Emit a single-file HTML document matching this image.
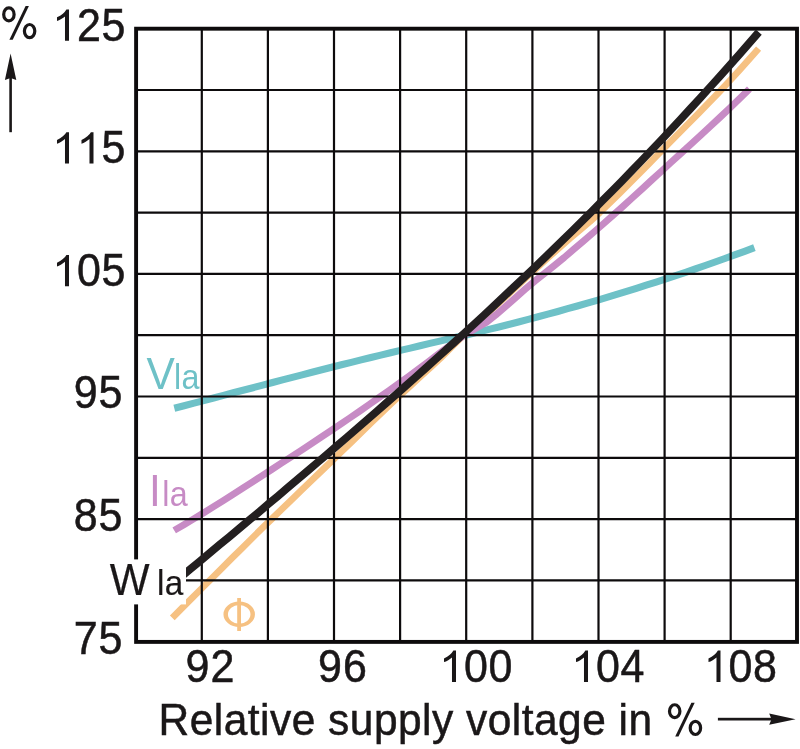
<!DOCTYPE html>
<html><head><meta charset="utf-8"><title>chart</title>
<style>
html,body{margin:0;padding:0;background:#fff;}
body{width:800px;height:749px;overflow:hidden;font-family:"Liberation Sans",sans-serif;}
svg{display:block;will-change:transform;}
text{font-family:"Liberation Sans",sans-serif;}
</style></head><body>
<svg width="800" height="749" viewBox="0 0 800 749">
<rect width="800" height="749" fill="#fff"/>
<g fill="none" stroke-width="7" stroke-linecap="butt" stroke-linejoin="round">
<path d="M174.3,408.2 L184.1,405.7 L194.0,403.1 L203.8,400.6 L213.6,398.0 L223.5,395.4 L233.3,392.8 L243.1,390.3 L253.0,387.7 L262.8,385.1 L272.6,382.5 L282.5,379.9 L292.3,377.4 L302.1,374.9 L312.0,372.3 L321.8,369.8 L331.6,367.3 L341.4,364.8 L351.3,362.4 L361.1,359.9 L370.9,357.5 L380.8,355.1 L390.6,352.7 L400.4,350.4 L410.3,348.1 L420.1,345.7 L429.9,343.4 L439.8,341.1 L449.6,338.8 L459.4,336.5 L469.3,334.2 L479.1,331.8 L488.9,329.4 L498.8,327.0 L508.6,324.5 L518.4,322.0 L528.3,319.4 L538.1,316.8 L547.9,314.1 L557.8,311.5 L567.6,308.7 L577.4,306.0 L587.3,303.1 L597.1,300.3 L606.9,297.4 L616.7,294.4 L626.6,291.4 L636.4,288.3 L646.2,285.2 L656.1,282.1 L665.9,278.9 L675.7,275.6 L685.6,272.3 L695.4,268.9 L705.2,265.5 L715.1,262.0 L724.9,258.5 L734.7,254.9 L744.6,251.3 L754.4,247.6" stroke="#6ec1c7" stroke-width="7.1"/>
<path d="M172.3,617.8 L182.2,607.8 L192.2,597.9 L202.1,588.0 L212.0,578.1 L222.0,568.2 L231.9,558.2 L241.9,548.4 L251.8,538.5 L261.7,528.7 L271.7,519.0 L281.6,509.4 L291.5,499.8 L301.5,490.2 L311.4,480.6 L321.4,471.0 L331.3,461.5 L341.2,451.9 L351.2,442.3 L361.1,432.6 L371.0,422.9 L381.0,413.3 L390.9,403.9 L400.9,394.6 L410.8,385.5 L420.7,376.4 L430.7,367.3 L440.6,358.0 L450.5,348.2 L460.5,338.4 L470.4,329.1 L480.4,320.0 L490.3,310.9 L500.2,301.7 L510.2,292.6 L520.1,283.4 L530.0,274.1 L540.0,265.0 L549.9,256.1 L559.9,247.3 L569.8,238.5 L579.7,230.2 L589.7,221.8 L599.6,212.7 L609.5,203.1 L619.5,193.4 L629.4,183.4 L639.4,173.4 L649.3,163.3 L659.2,153.1 L669.2,143.0 L679.1,133.0 L689.0,123.0 L699.0,112.9 L708.9,102.7 L718.9,92.4 L728.8,81.8 L738.7,70.9 L748.7,59.8 L758.6,48.6" stroke="#f6c182" stroke-width="6.7"/>
<path d="M174.2,530.4 L183.9,524.7 L193.7,518.9 L203.4,513.0 L213.2,506.9 L222.9,500.8 L232.7,494.6 L242.4,488.3 L252.2,482.1 L261.9,475.8 L271.7,469.5 L281.4,463.2 L291.2,456.9 L300.9,450.6 L310.7,444.2 L320.4,437.7 L330.2,431.2 L339.9,424.6 L349.7,418.0 L359.4,411.3 L369.2,404.5 L378.9,397.6 L388.7,390.7 L398.4,383.8 L408.2,376.7 L417.9,369.5 L427.7,362.2 L437.4,354.8 L447.2,347.6 L456.9,340.5 L466.7,333.7 L476.4,328.1 L486.2,322.5 L495.9,314.8 L505.7,306.4 L515.4,297.8 L525.2,289.2 L534.9,281.0 L544.7,273.3 L554.4,265.5 L564.2,257.5 L573.9,249.2 L583.7,240.9 L593.4,232.5 L603.2,224.0 L612.9,215.4 L622.7,206.6 L632.4,197.8 L642.2,188.9 L651.9,179.9 L661.7,171.0 L671.4,162.0 L681.2,153.1 L690.9,144.2 L700.7,135.2 L710.4,126.2 L720.2,117.1 L729.9,107.9 L739.7,98.5 L749.4,89.1" stroke="#c78bc5" stroke-width="6.9"/>
</g>
<g stroke="#0d0b0c" stroke-width="2.2" fill="none"><line x1="201.8" y1="28.7" x2="201.8" y2="641.9"/><line x1="267.9" y1="28.7" x2="267.9" y2="641.9"/><line x1="334.0" y1="28.7" x2="334.0" y2="641.9"/><line x1="400.1" y1="28.7" x2="400.1" y2="641.9"/><line x1="466.2" y1="28.7" x2="466.2" y2="641.9"/><line x1="532.4" y1="28.7" x2="532.4" y2="641.9"/><line x1="598.5" y1="28.7" x2="598.5" y2="641.9"/><line x1="664.6" y1="28.7" x2="664.6" y2="641.9"/><line x1="730.7" y1="28.7" x2="730.7" y2="641.9"/><line x1="136.1" y1="90.0" x2="797.0" y2="90.0"/><line x1="136.1" y1="151.3" x2="797.0" y2="151.3"/><line x1="136.1" y1="212.6" x2="797.0" y2="212.6"/><line x1="136.1" y1="273.9" x2="797.0" y2="273.9"/><line x1="136.1" y1="335.2" x2="797.0" y2="335.2"/><line x1="136.1" y1="396.5" x2="797.0" y2="396.5"/><line x1="136.1" y1="457.8" x2="797.0" y2="457.8"/><line x1="136.1" y1="519.1" x2="797.0" y2="519.1"/><line x1="136.1" y1="580.4" x2="797.0" y2="580.4"/></g>
<rect x="136.1" y="28.7" width="660.9" height="613.1999999999999" fill="none" stroke="#0d0b0c" stroke-width="3.9"/>
<path d="M180.0,577.7 L189.8,569.6 L199.6,561.5 L209.4,553.3 L219.2,545.1 L229.1,537.0 L238.9,528.8 L248.7,520.6 L258.5,512.4 L268.3,504.1 L278.1,495.9 L287.9,487.6 L297.7,479.3 L307.5,471.0 L317.3,462.6 L327.2,454.3 L337.0,445.8 L346.8,437.4 L356.6,428.9 L366.4,420.4 L376.2,411.9 L386.0,403.3 L395.8,394.7 L405.6,386.0 L415.4,377.3 L425.3,368.5 L435.1,359.7 L444.9,350.9 L454.7,342.0 L464.5,333.0 L474.3,324.0 L484.1,315.0 L493.9,305.9 L503.7,296.7 L513.5,287.4 L523.4,278.1 L533.2,268.8 L543.0,259.4 L552.8,249.9 L562.6,240.3 L572.4,230.7 L582.2,221.0 L592.0,211.2 L601.8,201.3 L611.6,191.4 L621.5,181.4 L631.3,171.3 L641.1,161.1 L650.9,150.9 L660.7,140.6 L670.5,130.1 L680.3,119.6 L690.1,109.0 L699.9,98.3 L709.7,87.5 L719.6,76.6 L729.4,65.6 L739.2,54.6 L749.0,43.4 L758.8,32.1" stroke="#231f20" stroke-width="7.8" fill="none" stroke-linejoin="round"/>
<rect x="105" y="559.4" width="81" height="45" fill="#fff"/>
<g fill="#1a1718" stroke="#1a1718">
<text transform="translate(125.92,40.60) scale(1.0,1.06)" font-size="43" text-anchor="end" letter-spacing="0.6" stroke-width="0.5">25</text><use href="#one" transform="translate(52.05,40.80) scale(0.0222,-0.02128)"/><text transform="translate(125.92,163.30) scale(1.0,1.06)" font-size="43" text-anchor="end" letter-spacing="0.6" stroke-width="0.5">5</text><use href="#one" transform="translate(52.05,163.50) scale(0.0222,-0.02128)"/><use href="#one" transform="translate(76.55,163.50) scale(0.0222,-0.02128)"/><text transform="translate(125.92,286.00) scale(1.0,1.06)" font-size="43" text-anchor="end" letter-spacing="0.6" stroke-width="0.5">05</text><use href="#one" transform="translate(52.05,286.20) scale(0.0222,-0.02128)"/><text transform="translate(123.52,408.30) scale(1.0,1.06)" font-size="43" text-anchor="end" letter-spacing="1.0" stroke-width="0.5">95</text><text transform="translate(123.52,530.80) scale(1.0,1.06)" font-size="43" text-anchor="end" letter-spacing="1.0" stroke-width="0.5">85</text><text transform="translate(123.52,653.80) scale(1.0,1.06)" font-size="43" text-anchor="end" letter-spacing="1.0" stroke-width="0.5">75</text>
<text transform="translate(185.55,682.00) scale(1.0,1.06)" font-size="43" text-anchor="start" letter-spacing="1.0" stroke-width="0.5">92</text><text transform="translate(318.05,682.00) scale(1.0,1.06)" font-size="43" text-anchor="start" letter-spacing="1.0" stroke-width="0.5">96</text><use href="#one" transform="translate(439.05,681.90) scale(0.0222,-0.02128)"/><text transform="translate(464.06,682.00) scale(1.0,1.06)" font-size="43" text-anchor="start" letter-spacing="0.6" stroke-width="0.5">00</text><use href="#one" transform="translate(571.05,681.90) scale(0.0222,-0.02128)"/><text transform="translate(596.07,682.00) scale(1.0,1.06)" font-size="43" text-anchor="start" letter-spacing="0.6" stroke-width="0.5">04</text><use href="#one" transform="translate(703.55,681.90) scale(0.0222,-0.02128)"/><text transform="translate(728.57,682.00) scale(1.0,1.06)" font-size="43" text-anchor="start" letter-spacing="0.6" stroke-width="0.5">08</text>
<text transform="translate(158.60,735.00) scale(1.0,1.025)" font-size="42.5" text-anchor="start" letter-spacing="0.47" stroke-width="0.5">Relative supply voltage in</text>

</g>
<defs><path id="one" fill="#1a1718" d="M763 0 L583 0 L583 1147 Q518 1085 412.5 1023 Q307 961 223 930 L223 1104 Q374 1175 487 1276 Q600 1377 647 1472 L763 1472 Z"/><g id="pct"><ellipse cx="8.9" cy="14.4" rx="5.2" ry="6.45" fill="none" stroke="#1a1718" stroke-width="3.2"/><ellipse cx="29.6" cy="31.1" rx="5.2" ry="6.6" fill="none" stroke="#1a1718" stroke-width="3.2"/><path d="M25.6,6.0 L28.9,6.0 L12.7,39.7 L9.4,39.7 Z" fill="#1a1718"/></g></defs>
<use href="#pct"/><use href="#pct" transform="translate(665.8,696.8)"/>
<g fill="#1a1718">
<rect x="9.3" y="75" width="2.6" height="57.2"/>
<path d="M10.6,53.6 L16.3,80 L10.6,78 L4.9,80 Z"/>
<rect x="717.9" y="717.8" width="55" height="2.7"/>
<path d="M795.6,719.2 L769.2,713.6 L771.5,719.2 L769.2,724.8 Z"/>
</g>
<text transform="translate(146.40,388.70) scale(1.0,1.045)" font-size="42.5" text-anchor="start" letter-spacing="0.3" stroke-width="0" fill="#6ec1c7" stroke="#6ec1c7">V</text><text transform="translate(174.10,388.70) scale(0.95,1.01)" font-size="34" text-anchor="start" letter-spacing="0.3" stroke-width="0" fill="#6ec1c7" stroke="#6ec1c7">la</text>
<text transform="translate(149.00,506.00) scale(1.0,1.045)" font-size="42.5" text-anchor="start" letter-spacing="0.3" stroke-width="0" fill="#c78bc5" stroke="#c78bc5">I</text><text transform="translate(162.30,506.00) scale(0.95,1.01)" font-size="34" text-anchor="start" letter-spacing="0.3" stroke-width="0" fill="#c78bc5" stroke="#c78bc5">la</text>
<text transform="translate(109.70,594.70) scale(1.0,1.03)" font-size="42.2" text-anchor="start" letter-spacing="0.3" stroke-width="0.2" fill="#1a1718" stroke="#1a1718">W</text><text transform="translate(157.00,594.70) scale(0.97,1.01)" font-size="34.3" text-anchor="start" letter-spacing="0.3" stroke-width="0.2" fill="#1a1718" stroke="#1a1718">la</text>
<path fill="#f6c182" fill-rule="evenodd" d="M223.45,614.3 a15.75,12.75 0 1,0 31.5,0 a15.75,12.75 0 1,0 -31.5,0 Z M227.95,614.3 a11.25,9.4 0 1,0 22.5,0 a11.25,9.4 0 1,0 -22.5,0 Z"/><rect x="237.2" y="598" width="3.8" height="33" fill="#f6c182"/>
</svg>
</body></html>
